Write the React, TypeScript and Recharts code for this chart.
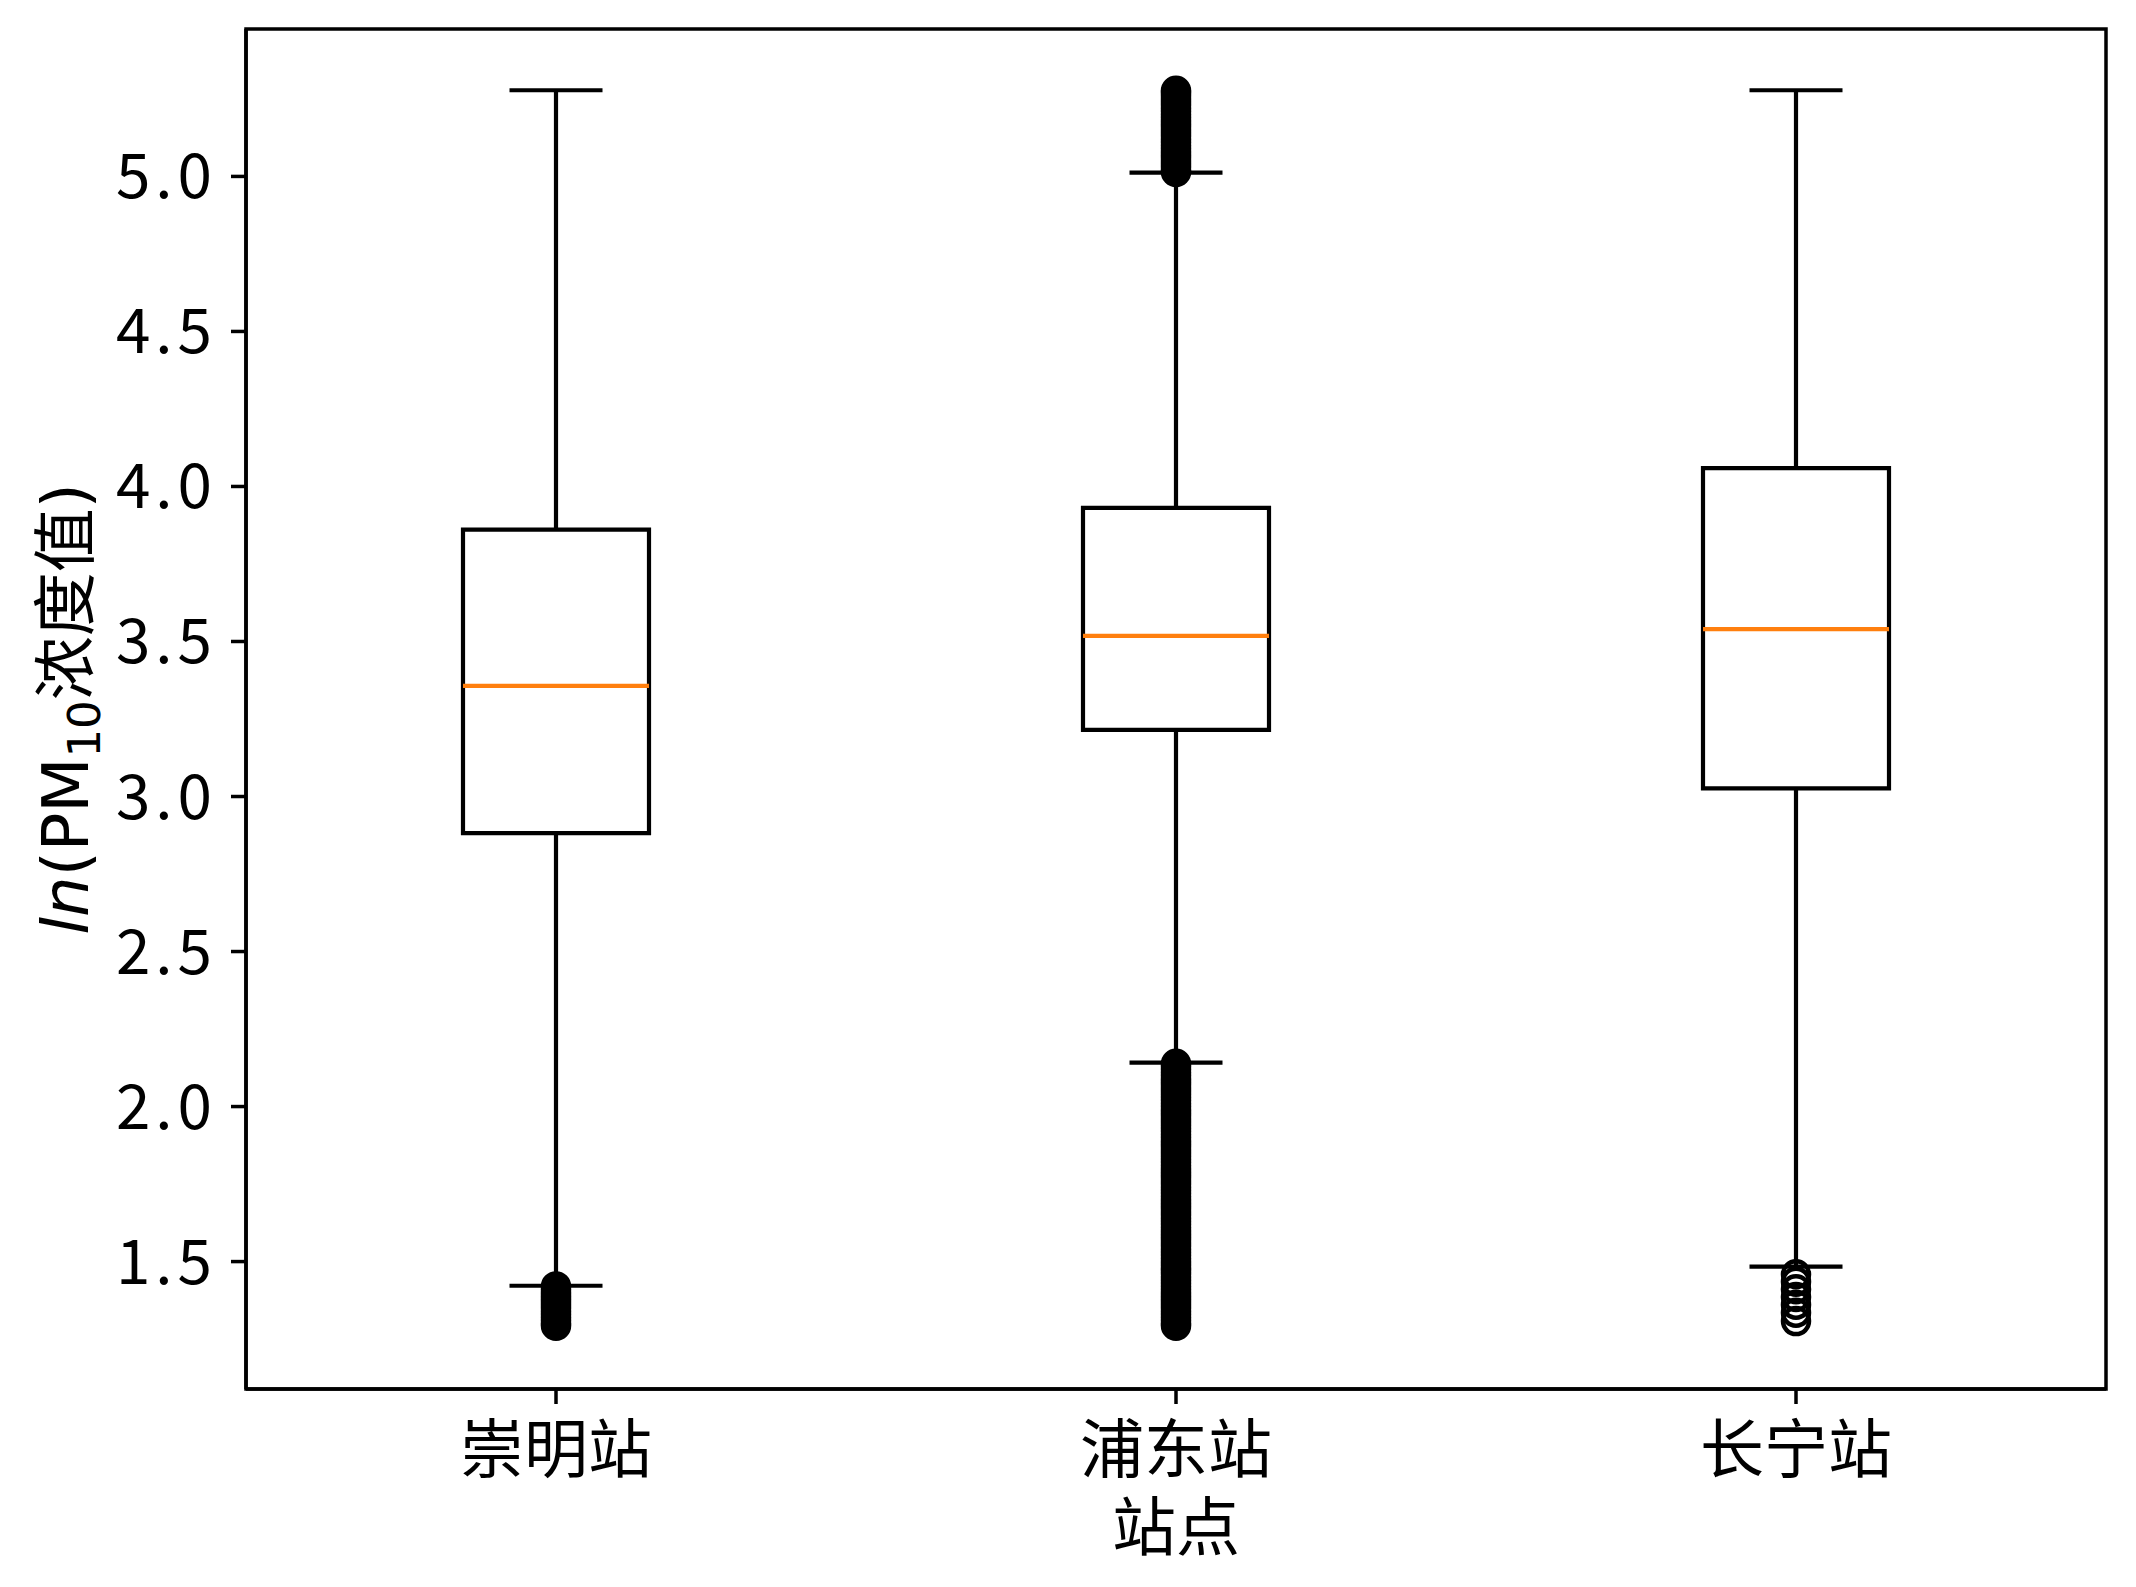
import React from 'react';
import { ComposedChart, XAxis, YAxis, Scatter, ReferenceArea, ReferenceLine } from 'recharts';

// ---------- data ----------
const stations = ['崇明站', '浦东站', '长宁站'];
const positions = [1, 2, 3];
const q1 = [2.882, 3.215, 3.026];
const medians = [3.357, 3.518, 3.540];
const q3 = [3.861, 3.931, 4.059];
const whiskerLow = [1.422, 2.142, 1.484];
const whiskerHigh = [5.278, 5.012, 5.278];
const yTicks = [1.5, 2.0, 2.5, 3.0, 3.5, 4.0, 4.5, 5.0];
const yDomain = [1.089, 5.4755];
const xDomain = [0.5, 3.5];

const chongmingFliers = [1.42, 1.41, 1.40, 1.39, 1.38, 1.37, 1.36, 1.35, 1.34, 1.33, 1.32, 1.31, 1.30, 1.293];
const pudongFliersHigh = [5.014, 5.02, 5.03, 5.04, 5.05, 5.06, 5.07, 5.08, 5.09, 5.10, 5.11, 5.12, 5.13, 5.14, 5.15, 5.16, 5.17, 5.18, 5.19, 5.20, 5.21, 5.22, 5.23, 5.24, 5.25, 5.26, 5.27, 5.276];
const pudongFliersLow = [2.138, 2.13, 2.12, 2.11, 2.10, 2.09, 2.08, 2.07, 2.06, 2.05, 2.04, 2.03, 2.02, 2.01, 2.00, 1.99, 1.98, 1.97, 1.96, 1.95, 1.94, 1.93, 1.92, 1.91, 1.90, 1.89, 1.88, 1.87, 1.86, 1.85, 1.84, 1.83, 1.82, 1.81, 1.80, 1.79, 1.78, 1.77, 1.76, 1.75, 1.74, 1.73, 1.72, 1.71, 1.70, 1.69, 1.68, 1.67, 1.66, 1.65, 1.64, 1.63, 1.62, 1.61, 1.60, 1.59, 1.58, 1.57, 1.56, 1.55, 1.54, 1.53, 1.52, 1.51, 1.50, 1.49, 1.48, 1.47, 1.46, 1.45, 1.44, 1.43, 1.42, 1.41, 1.40, 1.39, 1.38, 1.37, 1.36, 1.35, 1.34, 1.33, 1.32, 1.31, 1.30, 1.293];
const changningFliers = [1.459, 1.435, 1.411, 1.386, 1.361, 1.335, 1.308];

const flierGroups = [
  { pos: 1, values: chongmingFliers },
  { pos: 2, values: pudongFliersHigh },
  { pos: 2, values: pudongFliersLow },
  { pos: 3, values: changningFliers },
];
const flierData = flierGroups.flatMap((g) => g.values.map((v) => ({ x: g.pos, y: v })));

const BOX_HALF = 0.15;
const CAP_HALF = 0.075;
const LW = 4.2;
const CJK = '"Noto Sans CJK SC", "Noto Sans CJK JP", sans-serif';

const FlierShape = (props: any) => (
  <circle cx={props.cx} cy={props.cy} r={13} fill="none" stroke="#000" strokeWidth={4.5} />
);

const YLabel = (props: any) => {
  const vb = props.viewBox || { x: 0, y: 29, width: 246, height: 1360 };
  const cx = 88;
  const cy = vb.y + vb.height / 2;
  return (
    <text x={cx} y={cy} transform={`rotate(-90, ${cx}, ${cy})`} textAnchor="middle" fontSize={64} fill="#000">
      <tspan fontFamily="DejaVu Sans" fontStyle="italic">ln</tspan>
      <tspan fontFamily="DejaVu Sans">(PM</tspan>
      <tspan fontFamily="DejaVu Sans" fontSize={45} dy={12}>10</tspan>
      <tspan fontFamily={CJK} dy={-12}>浓度值</tspan>
      <tspan fontFamily="DejaVu Sans">)</tspan>
    </text>
  );
};

const XLabel = (props: any) => {
  const vb = props.viewBox || { x: 246, y: 1389, width: 1860, height: 198 };
  return (
    <text x={vb.x + vb.width / 2} y={vb.y + 161} textAnchor="middle" fontSize={64} fontFamily={CJK} fill="#000">
      站点
    </text>
  );
};

export default function App() {
  return (
    <div style={{ position: 'absolute', left: 0, top: 0, background: '#fff' }}>
      <ComposedChart width={2136} height={1587} margin={{ top: 29, right: 30, bottom: 0, left: 0 }}>
        <XAxis
          type="number"
          dataKey="x"
          domain={xDomain}
          ticks={positions}
          interval={0}
          allowDataOverflow
          tickFormatter={(v: number) => stations[v - 1]}
          height={198}
          tickSize={15}
          tickMargin={23}
          axisLine={{ stroke: '#000', strokeWidth: 3.5 }}
          tickLine={{ stroke: '#000', strokeWidth: 3.5 }}
          tick={{ fill: '#000', fontSize: 64, fontFamily: CJK }}
          label={<XLabel />}
        />
        <YAxis
          type="number"
          dataKey="y"
          domain={yDomain}
          ticks={yTicks}
          interval={0}
          allowDataOverflow
          tickFormatter={(v: number) => v.toFixed(1)}
          width={246}
          tickSize={15}
          tickMargin={14}
          axisLine={{ stroke: '#000', strokeWidth: 3.5 }}
          tickLine={{ stroke: '#000', strokeWidth: 3.5 }}
          tick={{ fill: '#000', fontSize: 62, fontFamily: CJK, letterSpacing: 5 }}
          label={<YLabel />}
        />
        <ReferenceArea
          x1={xDomain[0]}
          x2={xDomain[1]}
          y1={yDomain[0]}
          y2={yDomain[1]}
          fill="none"
          stroke="#000"
          strokeWidth={3.5}
          ifOverflow="visible"
        />
        {positions.map((p, i) => (
          <ReferenceArea
            key={`box-${i}`}
            x1={p - BOX_HALF}
            x2={p + BOX_HALF}
            y1={q1[i]}
            y2={q3[i]}
            fill="#fff"
            fillOpacity={1}
            stroke="#000"
            strokeWidth={LW}
            ifOverflow="visible"
          />
        ))}
        {positions.map((p, i) => (
          <ReferenceLine
            key={`wl-${i}`}
            segment={[{ x: p, y: whiskerLow[i] }, { x: p, y: q1[i] }]}
            stroke="#000"
            strokeWidth={LW}
            ifOverflow="visible"
          />
        ))}
        {positions.map((p, i) => (
          <ReferenceLine
            key={`wh-${i}`}
            segment={[{ x: p, y: q3[i] }, { x: p, y: whiskerHigh[i] }]}
            stroke="#000"
            strokeWidth={LW}
            ifOverflow="visible"
          />
        ))}
        {positions.map((p, i) => (
          <ReferenceLine
            key={`cl-${i}`}
            segment={[{ x: p - CAP_HALF, y: whiskerLow[i] }, { x: p + CAP_HALF, y: whiskerLow[i] }]}
            stroke="#000"
            strokeWidth={LW}
            ifOverflow="visible"
          />
        ))}
        {positions.map((p, i) => (
          <ReferenceLine
            key={`ch-${i}`}
            segment={[{ x: p - CAP_HALF, y: whiskerHigh[i] }, { x: p + CAP_HALF, y: whiskerHigh[i] }]}
            stroke="#000"
            strokeWidth={LW}
            ifOverflow="visible"
          />
        ))}
        {positions.map((p, i) => (
          <ReferenceLine
            key={`md-${i}`}
            segment={[{ x: p - BOX_HALF, y: medians[i] }, { x: p + BOX_HALF, y: medians[i] }]}
            stroke="#ff7f0e"
            strokeWidth={LW}
            ifOverflow="visible"
          />
        ))}
        <Scatter data={flierData} shape={<FlierShape />} isAnimationActive={false} />
      </ComposedChart>
    </div>
  );
}
